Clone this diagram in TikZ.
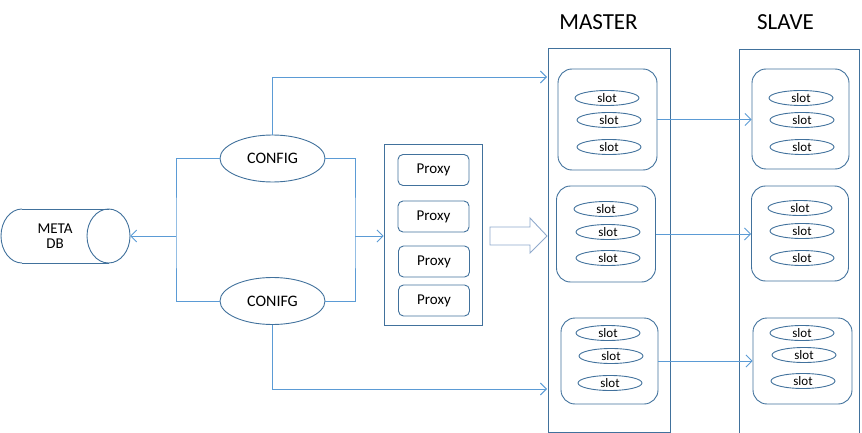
\documentclass[tikz,border=0pt]{standalone}
\usepackage{fontspec}
\setmainfont{Carlito}
\usetikzlibrary{arrows.meta,shapes.geometric}
\definecolor{edge}{HTML}{41719C}
\definecolor{conn}{HTML}{5B9BD5}
\definecolor{blk}{HTML}{8FA9CC}
\begin{document}
\begin{tikzpicture}[x=1pt,y=-1pt,
  outline/.style={draw=edge,line width=0.9pt},
  grp/.style={outline,rounded corners=14pt,inner sep=0pt},
  slotnode/.style={outline,ellipse,minimum width=64pt,minimum height=15pt,inner sep=0pt,font=\fontsize{13}{14}\selectfont},
  cfgnode/.style={outline,ellipse,minimum width=105pt,minimum height=47pt,inner sep=0pt,font=\fontsize{16}{18}\selectfont},
  proxynode/.style={outline,rounded corners=5pt,minimum width=71pt,minimum height=31pt,inner sep=0pt,font=\fontsize{15}{17}\selectfont},
  title/.style={font=\fontsize{23}{26}\selectfont},
  link/.style={draw=conn,line width=0.9pt,-{Straight Barb[length=6pt,width=12pt]}},
  plain/.style={draw=conn,line width=0.9pt}]
\useasboundingbox (0,0) rectangle (862,433);

% titles
\node[title] (tm) at (598.5,22.5) {MASTER};
\node[title] (ts) at (785.5,22.5) {SLAVE};

% outer boxes
\node[outline,minimum width=122pt,minimum height=384pt,inner sep=0pt] (master) at (609,240) {};
\node[outline,minimum width=120pt,minimum height=384pt,inner sep=0pt] (slave) at (799,241) {};

% master groups
\node[grp,minimum width=99pt,minimum height=101pt] (m1) at (607.5,119.5) {};
\node[grp,minimum width=99pt,minimum height=96pt] (m2) at (606,234) {};
\node[grp,minimum width=97pt,minimum height=86pt] (m3) at (609.5,361) {};
% slave groups
\node[grp,minimum width=97pt,minimum height=100pt] (s1) at (800.5,119) {};
\node[grp,minimum width=97pt,minimum height=95pt] (s2) at (800,233.5) {};
\node[grp,minimum width=99pt,minimum height=86pt] (s3) at (802.5,361) {};

% slots
\node[slotnode] (m1a) at (607,98) {slot};
\node[slotnode] (m1b) at (609,120) {slot};
\node[slotnode] (m1c) at (609,147) {slot};
\node[slotnode] (m2a) at (606,209) {slot};
\node[slotnode] (m2b) at (608,232) {slot};
\node[slotnode] (m2c) at (608,258) {slot};
\node[slotnode] (m3a) at (608,333) {slot};
\node[slotnode] (m3b) at (611,356) {slot};
\node[slotnode] (m3c) at (610,383) {slot};
\node[slotnode] (s1a) at (801,98) {slot};
\node[slotnode] (s1b) at (802,120) {slot};
\node[slotnode] (s1c) at (802,147) {slot};
\node[slotnode] (s2a) at (800,208) {slot};
\node[slotnode] (s2b) at (802,231) {slot};
\node[slotnode] (s2c) at (802,258) {slot};
\node[slotnode] (s3a) at (802,333) {slot};
\node[slotnode] (s3b) at (804,355) {slot};
\node[slotnode] (s3c) at (803,381) {slot};

% master -> slave
\draw[link] (m1.east) -- (s1.west |- m1.east);
\draw[link] (m2.east) -- (s2.west |- m2.east);
\draw[link] (m3.east) -- (s3.west |- m3.east);

% proxy
\node[outline,minimum width=98pt,minimum height=181pt,inner sep=0pt] (pbox) at (433,234.5) {};
\node[proxynode] (p1) at (433.5,170) {Proxy};
\node[proxynode] (p2) at (433.5,216.5) {Proxy};
\node[proxynode] (p3) at (434,261.5) {Proxy};
\node[proxynode] (p4) at (434,300.5) {Proxy};

% block arrow
\draw[draw=blk,line width=0.9pt,fill=white] (490,227) -- (530,227) -- (530,218) -- (547,236) -- (530,253) -- (530,245) -- (490,245) -- cycle;

% config nodes
\node[cfgnode] (c1) at (272.5,158.5) {CONFIG};
\node[cfgnode] (c2) at (272.5,301) {CONIFG};

% meta db cylinder
\draw[outline] (22,209) -- (108.5,209);
\draw[outline] (22,263) -- (108.5,263);
\draw[outline] (22,209) arc[start angle=270,end angle=90,x radius=21,y radius=27];
\draw[outline] (108.5,236) ellipse[x radius=21.5,y radius=27];
\node[font=\fontsize{15}{15.5}\selectfont,align=center] (db) at (55,236) {META\\DB};
\coordinate (dbR) at (130,236);

% junctions
\coordinate (jL) at (176,236);
\coordinate (jR) at (355,236);
\coordinate (mt) at (547,77);
\coordinate (mb) at (547,389);

\draw[plain] (c1.west) -| (jL) |- (c2.west);
\draw[link] (jL) -- (dbR);
\draw[plain] (c1.east) -| (jR) |- (c2.east);
\draw[link] (jR) -- (jR -| pbox.west);
\draw[link] (c1.north) |- (mt);
\draw[link] (c2.south) |- (mb);
\end{tikzpicture}
\end{document}
